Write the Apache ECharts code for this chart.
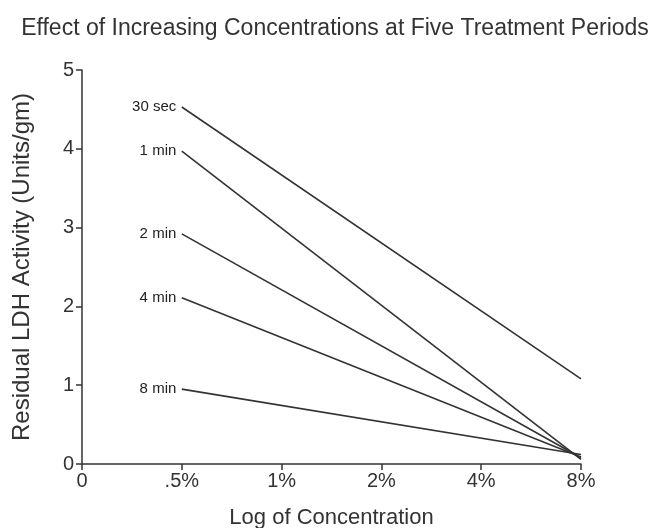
<!DOCTYPE html>
<html>
<head>
<meta charset="utf-8">
<script src="https://cdn.jsdelivr.net/npm/echarts@6/dist/echarts.min.js"></script>
<style>
html,body{margin:0;padding:0;background:#fff;}
#chart{width:653px;height:528px;}
</style>
</head>
<body>
<div id="chart"></div>
<script>
const categories = ['0', '.5%', '1%', '2%', '4%', '8%'];
const seriesNames = ['30 sec', '1 min', '2 min', '4 min', '8 min'];
const startValues = [4.53, 3.97, 2.92, 2.11, 0.95];
const endValues = [1.08, 0.06, 0.08, 0.09, 0.12];
const startCategory = '.5%';
const endCategory = '8%';
const yTicks = [0, 1, 2, 3, 4, 5];

const FONT = 'Liberation Sans';
const INK = '#333';

const series = seriesNames.map((name, i) => ({
  name: name,
  type: 'line',
  symbol: 'circle',
  symbolSize: 1,
  showSymbol: true,
  itemStyle: { color: 'rgba(0,0,0,0)' },
  lineStyle: { color: INK, width: 1.6 },
  label: { show: false },
  data: [
    {
      value: [startCategory, startValues[i]],
      label: {
        show: true,
        position: 'left',
        distance: 5,
        formatter: name,
        fontFamily: FONT,
        fontSize: 15,
        color: '#222'
      }
    },
    { value: [endCategory, endValues[i]] }
  ],
  animation: false
}));

const chart = echarts.init(document.getElementById('chart'));
chart.setOption({
  backgroundColor: '#fff',
  animation: false,
  title: {
    text: 'Effect of Increasing Concentrations at Five Treatment Periods',
    left: 330,
    textAlign: 'center',
    top: 12,
    textStyle: { fontFamily: FONT, fontSize: 23, fontWeight: 'normal', color: INK }
  },
  grid: { left: 82, right: 72, top: 70, bottom: 64, containLabel: false, outerBoundsMode: 'none' },
  xAxis: {
    type: 'category',
    data: categories,
    boundaryGap: false,
    name: 'Log of Concentration',
    nameLocation: 'middle',
    nameGap: 43,
    nameTextStyle: { fontFamily: FONT, fontSize: 22, color: INK },
    axisLine: { lineStyle: { color: INK, width: 1.5 } },
    axisTick: { show: true, inside: false, length: 6, lineStyle: { color: INK, width: 1.5 } },
    axisLabel: { fontFamily: FONT, fontSize: 20, color: INK, margin: 7 },
    splitLine: { show: false }
  },
  yAxis: {
    type: 'value',
    min: 0,
    max: 5,
    interval: 1,
    name: 'Residual LDH Activity (Units/gm)',
    nameLocation: 'middle',
    nameGap: 48,
    nameTextStyle: { fontFamily: FONT, fontSize: 24, color: INK },
    axisLine: { show: true, lineStyle: { color: INK, width: 1.5 } },
    axisTick: { show: true, inside: false, length: 6, lineStyle: { color: INK, width: 1.5 } },
    axisLabel: {
      fontFamily: FONT, fontSize: 20, color: INK, margin: 8,
      formatter: v => (yTicks.indexOf(v) >= 0 ? String(v) : '')
    },
    splitLine: { show: false }
  },
  series: series
});
</script>
</body>
</html>
